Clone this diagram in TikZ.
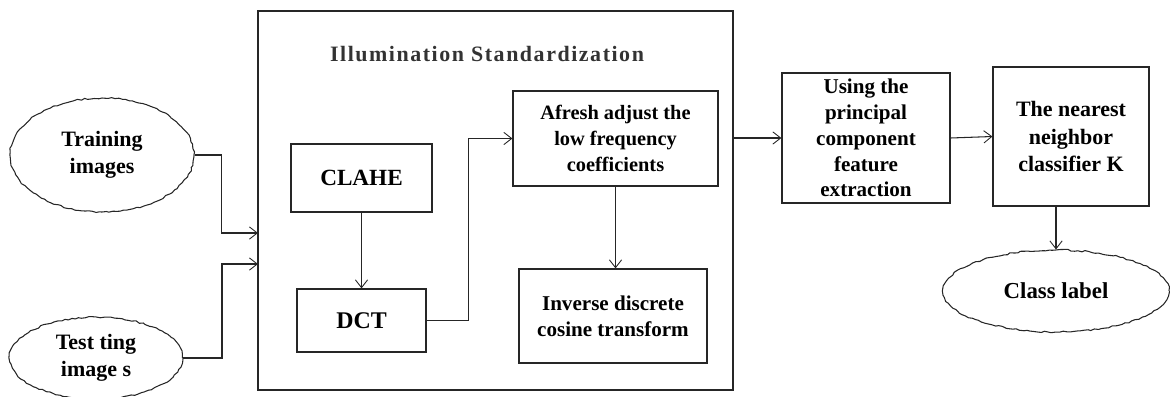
\documentclass[tikz,border=0pt]{standalone}
\usepackage{fontspec}
\setmainfont{Liberation Serif}
\usepackage{tikz}
\usetikzlibrary{arrows.meta,positioning,shapes.geometric,decorations.pathmorphing}

\begin{document}
\begin{tikzpicture}[x=0.02cm, y=-0.02cm]
\tikzstyle{block}=[rectangle, draw=black!85, line width=0.7pt, align=center, font=\bfseries\fontsize{12}{14.7}\selectfont, inner sep=0pt]
\tikzstyle{oval}=[ellipse, draw=black!85, line width=0.6pt, align=center, inner sep=0pt, font=\bfseries\fontsize{12.5}{15.2}\selectfont, decorate, decoration={random steps, segment length=2pt, amplitude=0.45pt}]
\tikzstyle{connect}=[-{Straight Barb[length=4.5pt, width=7pt, line width=0.5pt]}, line width=0.6pt, black!85]
\useasboundingbox (0,0) rectangle (1170,396);
% inputs
\node[oval, minimum width=3.68cm, minimum height=2.28cm] (Training) at (102,155) {Training\\images};
\node[oval, minimum width=3.46cm, minimum height=1.64cm] (Testing) at (96,358) {Test ting\\image s};
% illumination standardization stage
\node[block, minimum width=9.5cm, minimum height=7.58cm] (Standard) at (495.5,200.5) {};
\node[font=\bfseries\fontsize{12.5}{14}\selectfont\addfontfeatures{LetterSpace=7}, text=black!80] (Title) at (487,54) {Illumination Standardization};
\node[block, minimum width=2.82cm, minimum height=1.36cm, font=\bfseries\fontsize{13.2}{15}\selectfont] (Clahe) at (361.5,178) {CLAHE};
\node[block, minimum width=2.58cm, minimum height=1.26cm, font=\bfseries\fontsize{13.6}{15}\selectfont] (Dct) at (361.5,320.5) {DCT};
\node[block, minimum width=4.1cm, minimum height=1.9cm, font=\bfseries\fontsize{11.6}{14.7}\selectfont] (Afresh) at (615.5,138.5) {Afresh adjust the\\low frequency\\coefficients};
\node[block, minimum width=3.76cm, minimum height=1.88cm] (Inverse) at (613,316) {Inverse discrete\\cosine transform};
% feature extraction and classification
\node[block, minimum width=3.36cm, minimum height=2.6cm] (Pca) at (866,138) {Using the\\principal\\component\\feature\\extraction};
\node[block, minimum width=3.12cm, minimum height=2.78cm, font=\bfseries\fontsize{12.5}{15.6}\selectfont] (Knn) at (1071,136.5) {The nearest\\neighbor\\classifier K};
\node[oval, minimum width=4.52cm, minimum height=1.64cm, font=\bfseries\fontsize{13}{15}\selectfont] (ClassLabel) at (1056,291) {Class label};
\coordinate (InA) at (258,233);
\coordinate (InB) at (258,264);
  \draw[connect] (Training.east) -- ++(27,0) |- (InA);
  \draw[connect] (Testing.east) -- ++(39,0) |- (InB);
  \draw[connect] (Clahe) -- (Dct);
  \draw[connect] (Dct.east) -- ++(42,0) |- (Afresh.west);
  \draw[connect] (Afresh.south) -- (Afresh.south |- Inverse.north);
  \draw[connect] (Pca.west -| Standard.east) -- (Pca.west);
  \draw[connect] (Pca.east) -- (Knn.west);
  \draw[connect] (ClassLabel.north |- Knn.south) -- (ClassLabel.north);
\end{tikzpicture}
\end{document}
